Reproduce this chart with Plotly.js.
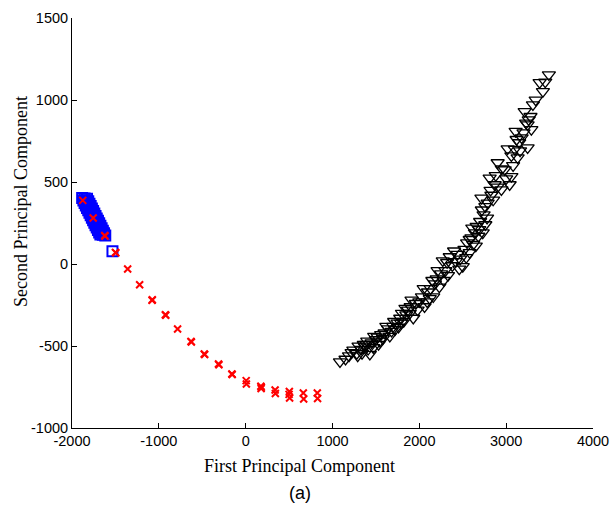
<!DOCTYPE html>
<html>
<head>
<meta charset="utf-8">
<script src="https://cdn.plot.ly/plotly-3.0.1.min.js"></script>
<style>html,body{margin:0;padding:0;background:#fff;}#chart{width:611px;height:508px;}</style>
</head>
<body>
<div id="chart"></div>
<script>
// Class 1: blue open squares
const blueX = [-1883,-1855,-1827, -1869,-1841,-1813, -1855,-1827,-1799, -1841,-1813,-1785,
  -1827,-1799,-1771, -1813,-1785,-1757, -1799,-1771,-1743, -1785,-1757,-1729,
  -1771,-1743,-1715, -1757,-1729,-1701, -1743,-1715,-1687, -1729,-1701,-1673,
  -1715,-1687,-1659, -1701,-1673,-1645, -1687,-1659,-1631, -1673,-1645,-1617, -1534];
const blueY = [402,400,398, 387,385,383, 372,370,368, 357,355,353,
  342,340,338, 327,325,323, 312,310,308, 297,295,293,
  282,280,278, 267,265,263, 252,250,248, 237,235,233,
  222,220,218, 207,205,203, 192,190,188, 180,178,174, 77];

// Class 2: red crosses
const redX = [-1876,-1756,-1623,-1620,-1500,-1495,-1359,-1221,-1078,-1075,-925,-920,-784,-630,-625,
  -477,-472,-313,-308,-159,-155,6,8,175,178,180,339,342,503,506,500,664,668,825,828];
const redY = [388,280,174,170,71,68,-30,-127,-222,-218,-309,-312,-396,-472,-476,
  -549,-552,-610,-614,-671,-674,-711,-732,-745,-760,-752,-768,-790,-777,-817,-795,-787,-823,-787,-820];

// Class 3: black open triangles
const blackX = [1086,1190,1240,1280,1300,1330,1360,1375,1400,1430,1450,1470,1500,1520,1545,1560,1290,1410,
  1600,1640,1660,1700,1720,1750,1780,1800,1820,1850,1870,1890,1900,1930,1960,1680,1760,
  2000,2030,2060,2090,2100,2130,2160,2180,2200,2230,2250,2270,2300,2330,2350,2380,2420,2440,2500,2470,
  2520,2550,2580,2600,2620,2640,2660,2680,2700,2730,2740,2760,2580,2690,
  2715,2787,2810,2868,2945,3040,2983,3060,2902,2760,2830,2850,2900,2820,3000,
  3017,3132,3247,3178,3109,3247,3213,3308,3423,3385,3492,3150,3200,3260,3100,3230,3280,3060,
  1150,1220,1340,1390,1480,1530,1580,1620,1710,1790,1840,1910,1980,2050,2120,2150,2210,2280,
  2320,2400,2460,2540,2610,2650,2720,2780,2880,2950,3080,3160,3120,3290,3340,3450];
const blackY = [-596,-560,-525,-545,-500,-520,-490,-505,-470,-550,-480,-510,-460,-445,-470,-430,-560,-520,
  -420,-395,-440,-380,-400,-360,-330,-300,-350,-310,-280,-300,-260,-330,-240,-410,-385,
  -230,-200,-260,-230,-170,-150,-200,-120,-90,-140,-60,20,-40,-70,45,-10,15,60,-15,30,
  90,130,70,160,120,190,230,170,260,190,300,240,150,210,
  402,372,524,484,453,484,575,534,618,350,420,390,470,450,520,
  703,648,709,770,809,849,930,971,1052,1107,1154,740,800,880,700,860,900,660,
  -580,-540,-545,-490,-440,-490,-455,-380,-350,-360,-270,-220,-280,-150,-210,-100,-40,-100,
  10,80,-30,40,220,110,330,280,540,580,600,690,760,820,1000,1110];

const xTickVals = [-2000,-1000,0,1000,2000,3000,4000];
const xTickText = ["-2000","-1000","0","1000","2000","3000","4000"];
const yTickVals = [-1000,-500,0,500,1000,1500];
const yTickText = ["-1000","-500","0","500","1000","1500"];

const traces = [
  {x: blueX, y: blueY, type: 'scatter', mode: 'markers', name: 'Class 1',
   marker: {symbol: 'square-open', size: 10, color: '#0000ff', line: {width: 2, color: '#0000ff'}}},
  {x: redX, y: redY, type: 'scatter', mode: 'markers', name: 'Class 2',
   marker: {symbol: 'x-thin-open', size: 7, color: '#ff0000', line: {width: 2, color: '#ff0000'}}},
  {x: blackX, y: blackY, type: 'scatter', mode: 'markers', name: 'Class 3',
   marker: {symbol: 'triangle-down-open', size: 11.5, color: '#000000', line: {width: 1.3, color: '#000000'}}}
];

const axisCommon = {
  showline: true, linecolor: '#000', linewidth: 1,
  ticks: 'inside', ticklen: 5, tickwidth: 1, tickcolor: '#000',
  showgrid: false, zeroline: false, mirror: false,
  tickfont: {family: 'Liberation Sans, Arial, sans-serif', size: 14.5, color: '#000'}
};

const serif = {family: 'Liberation Serif, Times New Roman, serif', size: 18, color: '#000'};

const layout = {
  width: 611, height: 508,
  margin: {l: 72, r: 18, t: 18, b: 80},
  paper_bgcolor: '#fff', plot_bgcolor: '#fff',
  showlegend: false,
  xaxis: Object.assign({}, axisCommon, {
    range: [-2000, 4000], tickvals: xTickVals, ticktext: xTickText
  }),
  yaxis: Object.assign({}, axisCommon, {
    range: [-1000, 1500], tickvals: yTickVals, ticktext: yTickText
  }),
  annotations: [
    {text: 'First Principal Component', xref: 'paper', yref: 'paper', x: 0.4376, y: -0.0927,
     xanchor: 'center', yanchor: 'middle', showarrow: false, font: serif},
    {text: 'Second Principal Component', xref: 'paper', yref: 'paper', x: -0.0979, y: 0.5537,
     xanchor: 'center', yanchor: 'middle', textangle: -90, showarrow: false, font: serif},
    {text: '(a)', xref: 'paper', yref: 'paper', x: 0.4385, y: -0.158, xanchor: 'center', yanchor: 'middle',
     showarrow: false, font: {family: 'Liberation Sans, Arial, sans-serif', size: 18, color: '#000'}}
  ]
};

Plotly.newPlot('chart', traces, layout, {staticPlot: true, displayModeBar: false});
</script>
</body>
</html>
